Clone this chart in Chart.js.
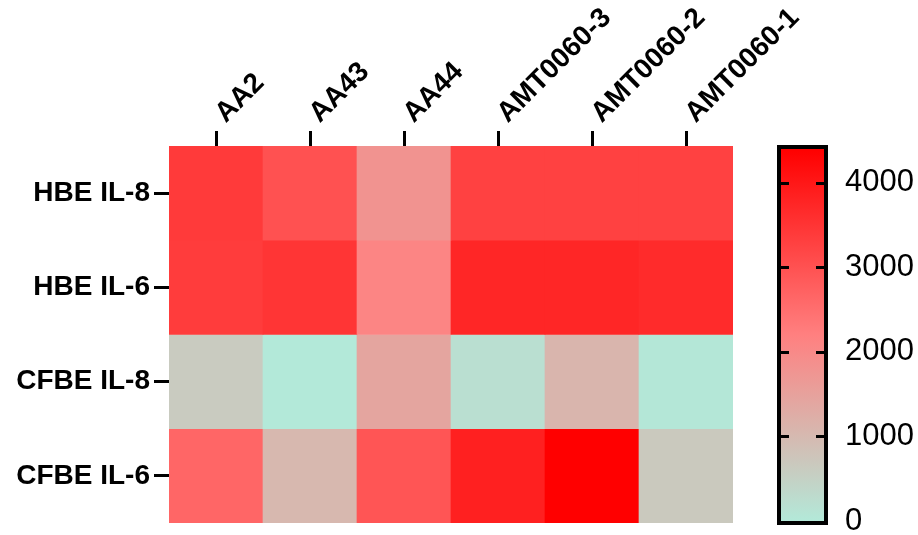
<!DOCTYPE html>
<html>
<head>
<meta charset="utf-8">
<script src="https://cdn.jsdelivr.net/npm/chart.js@4.4.1/dist/chart.umd.min.js"></script>
<style>
  html, body { margin: 0; padding: 0; background: #fff; overflow: hidden; }
  #wrap { position: relative; width: 918px; height: 535px; }
  #heat { position: absolute; left: 0; top: 0; width: 918px; height: 535px; }
  #bar { position: absolute; left: 760px; top: 0; width: 158px; height: 535px; }
</style>
</head>
<body>
<div id="wrap">
  <div id="heat"><canvas id="heatCanvas"></canvas></div>
  <div id="bar"><canvas id="barCanvas"></canvas></div>
</div>
<script>
// columns / rows of the heatmap
const samples = ['AA2', 'AA43', 'AA44', 'AMT0060-3', 'AMT0060-2', 'AMT0060-1'];
const rows = ['HBE IL-8', 'HBE IL-6', 'CFBE IL-8', 'CFBE IL-6'];

// values, one array per row
const hbeIL8 = [3400, 3010, 1800, 3280, 3280, 3280];
const hbeIL6 = [3370, 3490, 2100, 3750, 3750, 3660];
const cfbeIL8 = [630, 0, 1430, 210, 1090, 40];
const cfbeIL6 = [2650, 1030, 2940, 3850, 4400, 670];

// colour scale
const scaleMin = 0;
const scaleMax = 4400;
const scaleTicks = [0, 1000, 2000, 3000, 4000];

const lowColor = [179, 233, 217];
const midColor = [255, 128, 128];
const highColor = [255, 0, 0];

const FONT = '"Liberation Sans", Arial, sans-serif';

const rgb = c => `rgb(${c.map(Math.round).join(',')})`;

const colorFor = (v) => {
    const t = (v - scaleMin) / (scaleMax - scaleMin);
    let a, b, f;
    if (t < 0.5) { a = lowColor; b = midColor; f = t / 0.5; }
    else { a = midColor; b = highColor; f = (t - 0.5) / 0.5; }
    return rgb(a.map((x, i) => x + (b[i] - x) * f));
};

const matrix = [hbeIL8, hbeIL6, cfbeIL8, cfbeIL6];

new Chart(document.getElementById('heatCanvas'), {
    type: 'bar',
    data: {
        labels: samples,
        datasets: matrix.map((vals, r) => ({
            label: rows[r],
            data: vals.map(() => [r, r + 1]),
            backgroundColor: vals.map(colorFor),
            borderWidth: 0,
            grouped: false,
            barPercentage: 1,
            categoryPercentage: 1,
        })),
    },
    options: {
        responsive: true,
        maintainAspectRatio: false,
        animation: false,
        layout: { padding: { left: 0, right: 185, top: 0, bottom: 12 } },
        plugins: { legend: { display: false }, tooltip: { enabled: false } },
        scales: {
            x: {
                position: 'top',
                offset: true,
                grid: { offset: false, drawOnChartArea: false, tickLength: 15, tickWidth: 3, tickColor: '#000' },
                border: { display: false },
                ticks: {
                    minRotation: 45, maxRotation: 45, padding: 1, labelOffset: 28,
                    color: '#000', font: { family: FONT, size: 28, weight: 'bold' },
                },
                afterFit: s => { s.height = 146; s.paddingLeft = 0; s.paddingRight = 0; },
            },
            y: {
                min: 0,
                max: rows.length,
                reverse: true,
                afterBuildTicks: s => { s.ticks = rows.map((_, i) => ({ value: i + 0.5 })); },
                grid: { drawOnChartArea: false, tickLength: 15, tickWidth: 3, tickColor: '#000' },
                border: { display: false },
                ticks: {
                    padding: 4,
                    color: '#000', font: { family: FONT, size: 28, weight: 'bold' },
                    callback: v => rows[Math.floor(v)],
                },
                afterFit: s => { s.width = 169; s.paddingTop = 0; s.paddingBottom = 0; },
            },
        },
    },
});

// colour bar legend
const barFrame = {
    id: 'barFrame',
    afterDatasetsDraw(chart) {
        const { ctx, chartArea: a } = chart;
        const y = chart.scales.y;
        ctx.save();
        ctx.strokeStyle = '#000';
        ctx.lineWidth = 4;
        ctx.strokeRect(a.left - 2, a.top - 2, a.right - a.left + 4, a.bottom - a.top + 4);
        ctx.lineWidth = 3;
        scaleTicks.filter(v => v > scaleMin).forEach(v => {
            const py = Math.round(y.getPixelForValue(v)) + 0.5;
            ctx.beginPath();
            ctx.moveTo(a.left, py); ctx.lineTo(a.left + 8, py);
            ctx.moveTo(a.right - 8, py); ctx.lineTo(a.right, py);
            ctx.stroke();
        });
        ctx.restore();
    },
};

new Chart(document.getElementById('barCanvas'), {
    type: 'bar',
    data: {
        labels: [''],
        datasets: [{
            data: [[scaleMin, scaleMax]],
            backgroundColor: (c) => {
                const { chart } = c;
                const a = chart.chartArea;
                if (!a) return colorFor(scaleMax);
                const y = chart.scales.y;
                const g = chart.ctx.createLinearGradient(0, y.getPixelForValue(scaleMin), 0, y.getPixelForValue(scaleMax));
                g.addColorStop(0, rgb(lowColor));
                g.addColorStop(0.5, rgb(midColor));
                g.addColorStop(1, rgb(highColor));
                return g;
            },
            borderWidth: 0,
            barPercentage: 1,
            categoryPercentage: 1,
        }],
    },
    options: {
        responsive: true,
        maintainAspectRatio: false,
        animation: false,
        layout: { padding: { left: 21, right: 0, top: 149, bottom: 14 } },
        plugins: { legend: { display: false }, tooltip: { enabled: false } },
        scales: {
            x: { display: false },
            y: {
                position: 'right',
                min: scaleMin,
                max: scaleMax,
                afterBuildTicks: s => { s.ticks = scaleTicks.map(v => ({ value: v })); },
                grid: { display: false },
                border: { display: false },
                ticks: { padding: 13, color: '#000', font: { family: FONT, size: 31 }, callback: v => String(v) },
                afterFit: s => { s.width = 94; s.paddingTop = 0; s.paddingBottom = 0; },
            },
        },
    },
    plugins: [barFrame],
});
</script>
</body>
</html>
